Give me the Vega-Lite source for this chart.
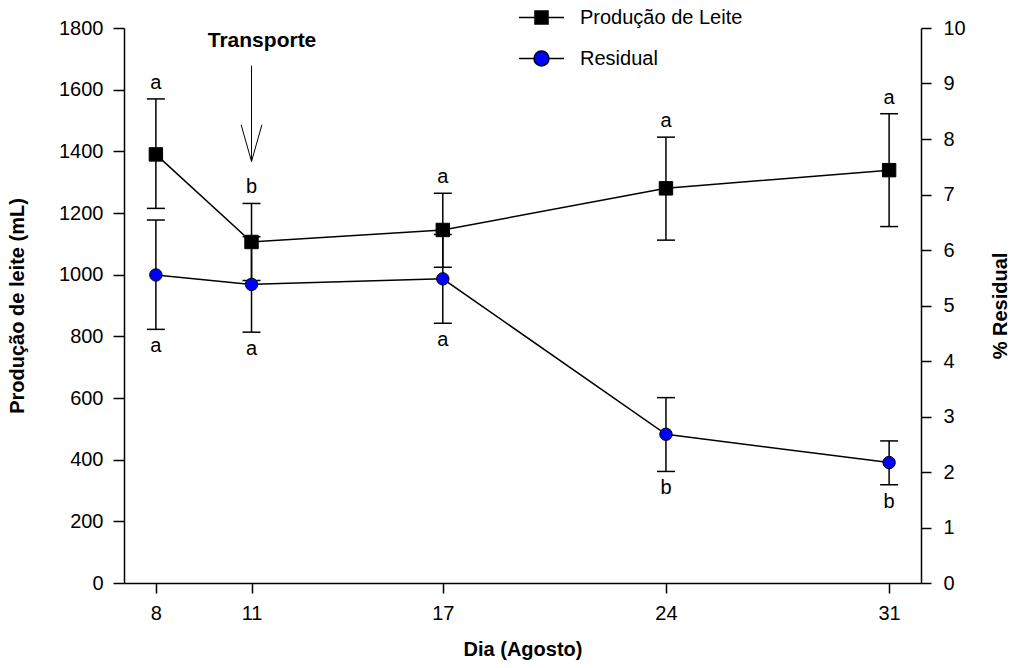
{
  "$schema": "https://vega.github.io/schema/vega-lite/v6.json",
  "width": 797,
  "height": 555,
  "autosize": "none",
  "padding": {"left": 124, "top": 28, "right": 89, "bottom": 85},
  "background": "white",
  "config": {
    "view": {"stroke": null},
    "font": "Liberation Sans",
    "axis": {
      "grid": false,
      "domainColor": "black",
      "domainWidth": 1.5,
      "tickColor": "black",
      "tickWidth": 1.5,
      "tickSize": 10,
      "labelColor": "black",
      "labelFont": "Liberation Sans",
      "labelFontSize": 20,
      "titleColor": "black",
      "titleFont": "Liberation Sans",
      "titleFontSize": 20,
      "titleFontWeight": "bold"
    },
    "legend": {
      "labelFont": "Liberation Sans",
      "labelFontSize": 20,
      "labelColor": "black",
      "labelOffset": 15,
      "labelLimit": 400,
      "rowPadding": 7,
      "symbolSize": 2025,
      "symbolStrokeWidth": 1.5,
      "symbolOpacity": 1
    }
  },
  "datasets": {
    "leite": [
      {"dia": 8, "leite": 1390, "lo": 1215, "hi": 1570, "letra": "a", "serie": "Produção de Leite"},
      {"dia": 11, "leite": 1106, "lo": 981, "hi": 1231, "letra": "b", "serie": "Produção de Leite"},
      {"dia": 17, "leite": 1145, "lo": 1024, "hi": 1264, "letra": "a", "serie": "Produção de Leite"},
      {"dia": 24, "leite": 1280, "lo": 1112, "hi": 1446, "letra": "a", "serie": "Produção de Leite"},
      {"dia": 31, "leite": 1339, "lo": 1156, "hi": 1522, "letra": "a", "serie": "Produção de Leite"}
    ],
    "residual": [
      {"dia": 8, "residual": 5.55, "lo": 4.57, "hi": 6.54, "letra": "a", "serie": "Residual"},
      {"dia": 11, "residual": 5.38, "lo": 4.52, "hi": 6.24, "letra": "a", "serie": "Residual"},
      {"dia": 17, "residual": 5.48, "lo": 4.68, "hi": 6.28, "letra": "a", "serie": "Residual"},
      {"dia": 24, "residual": 2.68, "lo": 2.01, "hi": 3.34, "letra": "b", "serie": "Residual"},
      {"dia": 31, "residual": 2.17, "lo": 1.77, "hi": 2.56, "letra": "b", "serie": "Residual"}
    ],
    "seta": [
      {"dia": 11, "leite": 1678, "dia2": 11, "leite2": 1367},
      {"dia": 10.675, "leite": 1486, "dia2": 11, "leite2": 1367},
      {"dia": 11.325, "leite": 1486, "dia2": 11, "leite2": 1367}
    ],
    "rotulo": [
      {"dia": 11.33, "leite": 1759, "texto": "Transporte"}
    ]
  },
  "encoding": {
    "x": {
      "field": "dia",
      "type": "quantitative",
      "scale": {"domain": [7, 32], "nice": false, "zero": false},
      "axis": {"values": [8, 11, 17, 24, 31], "title": "Dia (Agosto)", "labelPadding": 10, "titlePadding": 16}
    }
  },
  "layer": [
    {
      "data": {"name": "leite"},
      "encoding": {
        "y": {
          "field": "leite",
          "type": "quantitative",
          "title": "Produção de leite (mL)",
          "scale": {"domain": [0, 1800], "nice": false},
          "axis": {"orient": "left", "format": "d", "tickSize": 11, "values": [0, 200, 400, 600, 800, 1000, 1200, 1400, 1600, 1800], "labelPadding": 10, "titlePadding": 31}
        }
      },
      "layer": [
        {"mark": {"type": "line", "color": "black", "strokeWidth": 1.5}},
        {
          "mark": {"type": "rule", "color": "black", "strokeWidth": 1.5},
          "encoding": {
            "y": {"field": "lo", "type": "quantitative", "title": "Produção de leite (mL)"},
            "y2": {"field": "hi"}
          }
        },
        {
          "mark": {"type": "tick", "orient": "horizontal", "color": "black", "size": 18, "thickness": 1.5, "opacity": 1},
          "encoding": {"y": {"field": "lo", "type": "quantitative", "title": "Produção de leite (mL)"}}
        },
        {
          "mark": {"type": "tick", "orient": "horizontal", "color": "black", "size": 18, "thickness": 1.5, "opacity": 1},
          "encoding": {"y": {"field": "hi", "type": "quantitative", "title": "Produção de leite (mL)"}}
        },
        {
          "mark": {"type": "point", "shape": "square", "filled": true, "fill": "#000000", "size": 180, "opacity": 1, "stroke": "black", "strokeWidth": 1}
        },
        {
          "description": "legend source: line-and-marker keys for both series",
          "mark": {"type": "point", "filled": true, "opacity": 0, "size": 10, "strokeWidth": 1.5},
          "encoding": {
            "fill": {
              "field": "serie",
              "type": "nominal",
              "scale": {"domain": ["Produção de Leite", "Residual"], "range": ["#000000", "#0000ff"]},
              "legend": {"title": null, "orient": "none", "legendX": 394, "legendY": -34}
            },
            "stroke": {
              "field": "serie",
              "type": "nominal",
              "scale": {"domain": ["Produção de Leite", "Residual"], "range": ["#000000", "#000000"]},
              "legend": {"title": null, "orient": "none", "legendX": 394, "legendY": -34}
            },
            "shape": {
              "field": "serie",
              "type": "nominal",
              "scale": {
                "domain": ["Produção de Leite", "Residual"],
                "range": [
                  "M-1,0H-0.29M0.29,0H1M-0.29,-0.29H0.29V0.29H-0.29Z",
                  "M-1,0H-0.333M0.333,0H1M-0.333,0A0.333,0.333,0,1,0,0.333,0A0.333,0.333,0,1,0,-0.333,0Z"
                ]
              },
              "legend": {"title": null, "orient": "none", "legendX": 394, "legendY": -34}
            }
          }
        },
        {
          "mark": {"type": "text", "fontSize": 20, "color": "black", "baseline": "middle", "dy": -16},
          "encoding": {
            "y": {"field": "hi", "type": "quantitative", "title": "Produção de leite (mL)"},
            "text": {"field": "letra"}
          }
        },
        {
          "data": {"name": "seta"},
          "mark": {"type": "rule", "color": "black", "strokeWidth": 1},
          "encoding": {
            "x2": {"field": "dia2"},
            "y2": {"field": "leite2"}
          }
        },
        {
          "data": {"name": "rotulo"},
          "mark": {"type": "text", "fontSize": 21, "fontWeight": "bold", "color": "black", "baseline": "middle", "align": "center"},
          "encoding": {"text": {"field": "texto"}}
        }
      ]
    },
    {
      "data": {"name": "residual"},
      "encoding": {
        "y": {
          "field": "residual",
          "type": "quantitative",
          "title": "% Residual",
          "scale": {"domain": [0, 10], "nice": false},
          "axis": {"orient": "right", "values": [0, 1, 2, 3, 4, 5, 6, 7, 8, 9, 10], "labelPadding": 12, "titlePadding": 45, "titleAngle": 270}
        }
      },
      "layer": [
        {"mark": {"type": "line", "color": "black", "strokeWidth": 1.5}},
        {
          "mark": {"type": "rule", "color": "black", "strokeWidth": 1.5},
          "encoding": {
            "y": {"field": "lo", "type": "quantitative", "title": "% Residual"},
            "y2": {"field": "hi"}
          }
        },
        {
          "mark": {"type": "tick", "orient": "horizontal", "color": "black", "size": 18, "thickness": 1.5, "opacity": 1},
          "encoding": {"y": {"field": "lo", "type": "quantitative", "title": "% Residual"}}
        },
        {
          "mark": {"type": "tick", "orient": "horizontal", "color": "black", "size": 18, "thickness": 1.5, "opacity": 1},
          "encoding": {"y": {"field": "hi", "type": "quantitative", "title": "% Residual"}}
        },
        {
          "mark": {"type": "point", "shape": "circle", "filled": true, "fill": "#0000ff", "size": 154, "opacity": 1, "stroke": "black", "strokeWidth": 1}
        },
        {
          "mark": {"type": "text", "fontSize": 20, "color": "black", "baseline": "middle", "dy": 17},
          "encoding": {
            "y": {"field": "lo", "type": "quantitative", "title": "% Residual"},
            "text": {"field": "letra"}
          }
        }
      ]
    }
  ],
  "resolve": {"scale": {"y": "independent"}}
}
